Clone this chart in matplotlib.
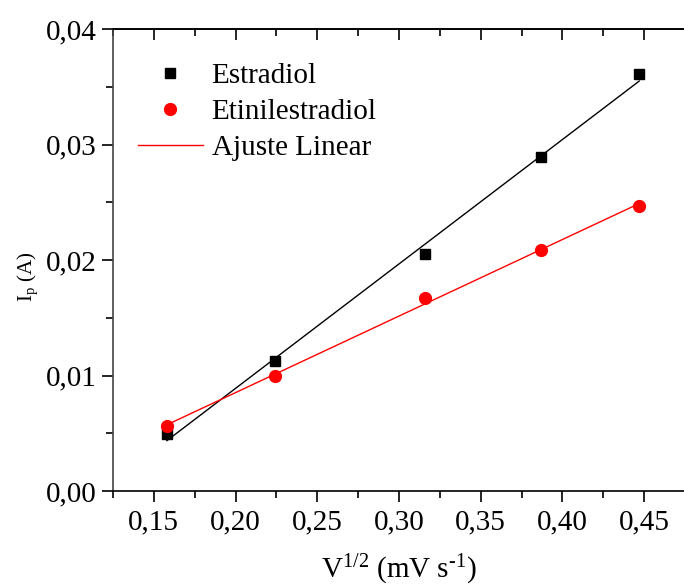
import numpy as np
import matplotlib
matplotlib.use("Agg")
import matplotlib.pyplot as plt
from matplotlib.ticker import MultipleLocator, FuncFormatter

plt.rcParams['font.family'] = ['Liberation Serif', 'DejaVu Serif']
plt.rcParams['mathtext.fontset'] = 'custom'
plt.rcParams['mathtext.rm'] = 'Liberation Serif'
plt.rcParams['mathtext.it'] = 'Liberation Serif:italic'
plt.rcParams['mathtext.bf'] = 'Liberation Serif:bold'

# Data
x_vals = [0.158, 0.224, 0.316, 0.387, 0.447]
estradiol = [0.00494, 0.01126, 0.02052, 0.02892, 0.0361]
etinilestradiol = [0.00563, 0.00996, 0.01671, 0.02087, 0.02468]
x_ticks = [0.15, 0.20, 0.25, 0.30, 0.35, 0.40, 0.45]
y_ticks = [0.00, 0.01, 0.02, 0.03, 0.04]

fig = plt.figure(figsize=(6.84, 5.87), dpi=100)
ax = fig.add_axes([113/684, 96/587, 572/684, 462/587])

x = np.array(x_vals)
for y, c in [(estradiol, 'black'), (etinilestradiol, 'red')]:
    p = np.polyfit(x, np.array(y), 1)
    xf = np.array([x.min(), x.max()])
    ax.plot(xf, np.polyval(p, xf), color=c, lw=1.0, zorder=2)

ax.plot(x, estradiol, 's', color='black', ms=7.5, label='Estradiol', zorder=3)
ax.plot(x, etinilestradiol, 'o', color='red', ms=8.5, label='Etinilestradiol', zorder=3)
ax.plot([], [], '-', color='red', lw=1.0, label='Ajuste Linear')

ax.set_xlim(0.125, 0.475)
ax.set_ylim(0, 0.04)
ax.set_xticks(x_ticks)
ax.set_yticks(y_ticks)
ax.xaxis.set_minor_locator(MultipleLocator(0.025))
ax.yaxis.set_minor_locator(MultipleLocator(0.005))
ax.xaxis.set_major_formatter(FuncFormatter(lambda v, _: f"{v:.2f}".replace('.', ',')))
ax.yaxis.set_major_formatter(FuncFormatter(lambda v, _: f"{v:.2f}".replace('.', ',')))

ax.spines['right'].set_visible(False)
for s in ['left', 'bottom', 'top']:
    ax.spines[s].set_linewidth(1.2)
ax.spines['left'].set_color('#444444')

ax.tick_params(axis='both', which='major', direction='out', length=8, width=1.2,
               labelsize=21, pad=4)
ax.tick_params(axis='both', which='minor', direction='out', length=5, width=1.2)
ax.tick_params(axis='x', which='both', top=False, pad=5)

# top ticks inward
sec = ax.secondary_xaxis('top')
sec.set_xticks(x_ticks)
sec.xaxis.set_minor_locator(MultipleLocator(0.025))
sec.tick_params(axis='x', which='major', direction='in', length=8, width=1.2, labeltop=False)
sec.tick_params(axis='x', which='minor', direction='in', length=5, width=1.2)
sec.spines['top'].set_linewidth(1.2)

ax.set_xlabel(r'V$^{1/2}$ (mV s$^{\text{-1}}$)', fontsize=21, labelpad=13)
ax.set_ylabel(r'I$_{\mathrm{p}}$ (A)', fontsize=15)
ax.yaxis.set_label_coords(-0.128, 0.463)

leg = ax.legend(loc='upper left', bbox_to_anchor=(0.023, 0.952), frameon=False,
                fontsize=21, handlelength=2.23, handletextpad=0.3,
                labelspacing=0.33, numpoints=1, borderaxespad=0)

fig.savefig('out.png', dpi=100)
